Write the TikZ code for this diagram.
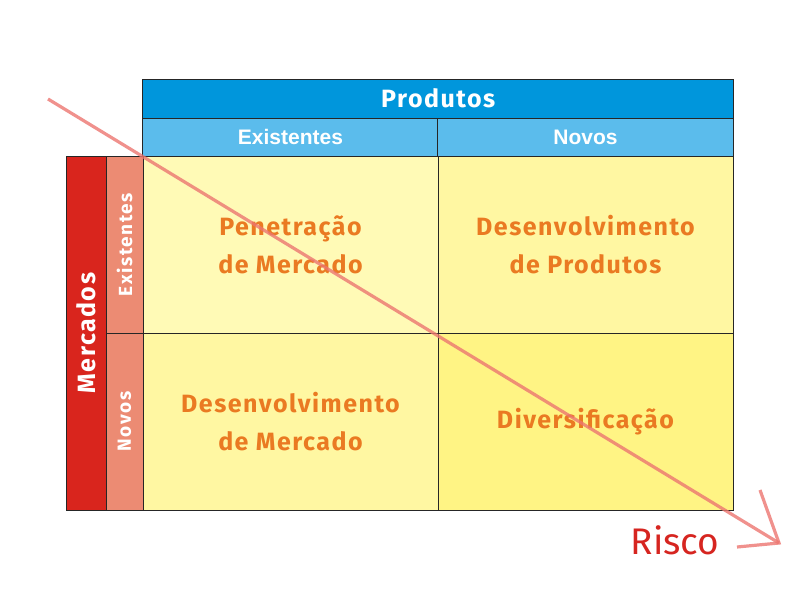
\documentclass[tikz,border=0pt]{standalone}
\usepackage{fontspec}
\setmainfont{Fira Sans}
\newfontfamily\arialfont{Liberation Sans}
\newfontfamily\spacedfont[LetterSpace=6]{Fira Sans}
\newfontfamily\sidefont[LetterSpace=8]{Fira Sans}
\usetikzlibrary{arrows.meta,positioning}
\definecolor{prodblue}{RGB}{0,150,220}
\definecolor{subblue}{RGB}{91,188,236}
\definecolor{mercred}{RGB}{217,37,29}
\definecolor{mercsalmon}{RGB}{236,139,115}
\definecolor{cellA}{RGB}{255,250,182}
\definecolor{cellB}{RGB}{255,247,162}
\definecolor{cellC}{RGB}{255,244,132}
\definecolor{txtorange}{RGB}{234,122,34}
\definecolor{riskline}{RGB}{236,118,112}
\definecolor{riskred}{RGB}{214,37,32}
\begin{document}
\begin{tikzpicture}[x=1pt,y=-1pt,
  box/.style={draw=black!85, line width=0.9pt, inner sep=0pt, outer sep=0pt},
  cell/.style={box, minimum width=295pt, minimum height=177pt, align=center,
    text=txtorange, font=\spacedfont\bfseries\fontsize{25}{38}\selectfont},
  colhead/.style={box, fill=subblue, minimum width=295.5pt, minimum height=38pt,
    text=white, font=\arialfont\bfseries\fontsize{21}{24}\selectfont},
  rowhead/.style={box, fill=mercsalmon, minimum width=37pt, minimum height=177pt},
  rowlabel/.style={rotate=90, text=white, font=\sidefont\bfseries\fontsize{19}{22}\selectfont},
  risk/.style={draw=riskline, opacity=0.8, line width=3.2pt, line join=miter}]
\useasboundingbox (0,0) rectangle (800,600);

% matriz
\node[cell, fill=cellA, anchor=north west] (pen) at (143,156) {Penetração\\de Mercado};
\node[cell, fill=cellB, right=0pt of pen] (desprod) {Desenvolvimento\\de Produtos};
\node[cell, fill=cellB, below=0pt of pen] (desmerc) {Desenvolvimento\\de Mercado};
\node[cell, fill=cellC, right=0pt of desmerc] (divers) {Diversificação};

% produtos
\node[colhead, above=0pt of pen] (pexist) {Existentes};
\node[colhead, above=0pt of desprod] (pnovos) {Novos};
\node[box, fill=prodblue, minimum width=591pt, minimum height=39pt, anchor=south west,
  text=white, font=\spacedfont\bfseries\fontsize{25}{28}\selectfont] (prod) at (pexist.north west) {Produtos};

% mercados
\node[rowhead, left=0pt of pen] (mexist) {};
\node[rowhead, left=0pt of desmerc] (mnovos) {};
\node[rowlabel] at (mexist) {Existentes};
\node[rowlabel] at (mnovos) {Novos};
\node[box, fill=mercred, minimum width=40pt, minimum height=354pt, anchor=north east] (merc) at (mexist.north west) {};
\node[rowlabel, font=\spacedfont\bfseries\fontsize{25}{28}\selectfont] at (merc) {Mercados};

% risco
\coordinate (riskA) at (48,99);
\coordinate (riskB) at (779,543);
\coordinate (barbA) at (760,490);
\coordinate (barbB) at (737,547);
\draw[risk] (riskA) -- (riskB);
\draw[risk] (barbA) -- (riskB) -- (barbB);
\node[text=riskred, font=\fontsize{37}{42}\selectfont] (risco) at (675,540) {Risco};
\end{tikzpicture}
\end{document}
